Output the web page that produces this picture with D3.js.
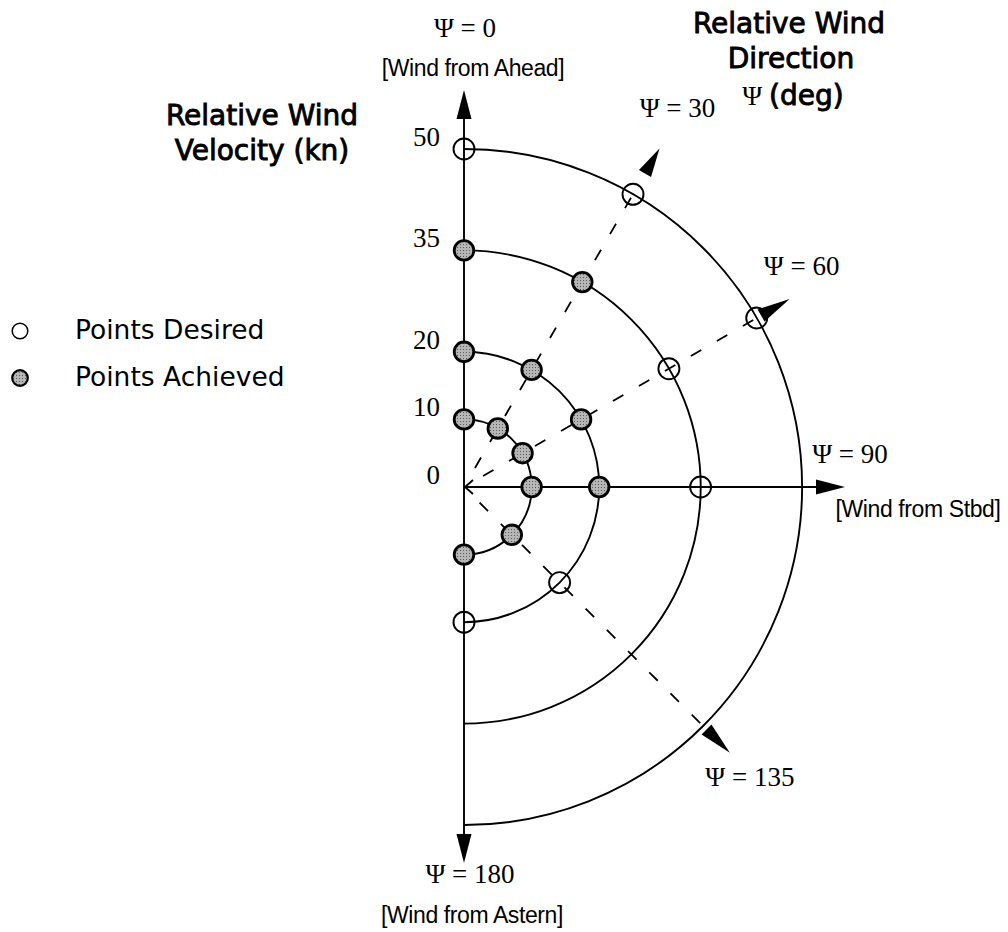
<!DOCTYPE html>
<html>
<head>
<meta charset="utf-8">
<script src="https://cdnjs.cloudflare.com/ajax/libs/d3/7.8.5/d3.min.js"></script>
<style>
  body { margin: 0; background: #fff; }
  svg { display: block; }
</style>
</head>
<body>
<script>
// chart values
var speedTicks = [0, 10, 20, 35, 50];
var arcSpeeds = [10, 20, 35, 50];
var axisDirections = [0, 90, 180];
var dashedDirections = [30, 60, 135];
var labelDirections = [0, 30, 60, 90, 135, 180];
var windFromLabels = ["[Wind from Ahead]", "[Wind from Stbd]", "[Wind from Astern]"];
// [speed kn, direction deg]
var pointsDesired = [[50, 0], [50, 30], [50, 60], [35, 60], [35, 90], [20, 135], [20, 180]];
var pointsAchieved = [[10, 0], [10, 30], [10, 60], [10, 90], [10, 135], [10, 180],
                      [20, 0], [20, 30], [20, 60], [20, 90], [35, 0], [35, 30]];
var legendLabels = ["Points Desired", "Points Achieved"];

var width = 1008,
  height = 932,
  cx = 464,
  cy = 487,
  svg = d3.select("body").append("svg")
    .attr("width", width)
    .attr("height", height);

var r = d3.scaleLinear().domain([0, 50]).range([0, 338]);

function polar(rad, deg) {
  var a = deg * Math.PI / 180;
  return [cx + rad * Math.sin(a), cy - rad * Math.cos(a)];
}

// filled triangle pointing outwards along deg
function arrowHead(deg, r0, r1, hw) {
  var a = deg * Math.PI / 180,
    ux = Math.sin(a), uy = -Math.cos(a),
    b = polar(r0, deg), t = polar(r1, deg);
  return "M" + t[0] + "," + t[1] +
    "L" + (b[0] - uy * hw) + "," + (b[1] + ux * hw) +
    "L" + (b[0] + uy * hw) + "," + (b[1] - ux * hw) + "Z";
}

var defs = svg.append("defs");
var pat = defs.append("pattern").attr("id", "stipple")
  .attr("width", 3).attr("height", 3).attr("patternUnits", "userSpaceOnUse");
pat.append("rect").attr("width", 3).attr("height", 3).attr("fill", "#b6b6b6");
pat.append("rect").attr("x", 1).attr("y", 1).attr("width", 1).attr("height", 1).attr("fill", "#5a5a5a");

var g = svg.append("g");

// speed arcs, right half
g.selectAll("path.arc")
  .data(arcSpeeds)
  .enter().append("path")
  .attr("class", "arc")
  .attr("d", function(s) {
    var p = d3.path();
    p.moveTo(cx, cy - r(s));
    p.arc(cx, cy, r(s), -Math.PI / 2, Math.PI / 2);
    return p.toString();
  })
  .attr("fill", "none")
  .attr("stroke", "#000")
  .attr("stroke-width", 1.9);

// dashed direction lines
g.selectAll("line.dash")
  .data(dashedDirections)
  .enter().append("line")
  .attr("class", "dash")
  .attr("x1", function(d) { return polar(22, d)[0]; })
  .attr("y1", function(d) { return polar(22, d)[1]; })
  .attr("x2", function(d) { return polar(r(50), d)[0]; })
  .attr("y2", function(d) { return polar(r(50), d)[1]; })
  .attr("stroke", "#000")
  .attr("stroke-width", 1.8)
  .attr("stroke-dasharray", "12,18");

g.selectAll("path.dashArrow")
  .data(dashedDirections)
  .enter().append("path")
  .attr("class", "dashArrow")
  .attr("d", function(d) { return d == 30 ? arrowHead(d, 362, 391, 7) : arrowHead(d, 343, 376, 7); })
  .attr("fill", "#000");

// solid axes: up, right, down
var axisLen = {0: 397, 90: 381, 180: 376};
g.selectAll("line.axis")
  .data(axisDirections)
  .enter().append("line")
  .attr("class", "axis")
  .attr("x1", cx).attr("y1", cy)
  .attr("x2", function(d) { return polar(axisLen[d] - 10, d)[0]; })
  .attr("y2", function(d) { return polar(axisLen[d] - 10, d)[1]; })
  .attr("stroke", "#000")
  .attr("stroke-width", 1.9);

g.selectAll("path.axisArrow")
  .data(axisDirections)
  .enter().append("path")
  .attr("class", "axisArrow")
  .attr("d", function(d) { return arrowHead(d, axisLen[d] - 29, axisLen[d], 7.5); })
  .attr("fill", "#000");

// open chevron at the origin on the 90 axis
g.append("path")
  .attr("d", "M" + (cx + 9) + "," + (cy - 7) + "L" + (cx + 1) + "," + cy + "L" + (cx + 9) + "," + (cy + 7))
  .attr("fill", "none")
  .attr("stroke", "#000")
  .attr("stroke-width", 1.8);

// points
g.selectAll("circle.desired")
  .data(pointsDesired)
  .enter().append("circle")
  .attr("class", "desired")
  .attr("cx", function(d) { return polar(r(d[0]), d[1])[0]; })
  .attr("cy", function(d) { return polar(r(d[0]), d[1])[1]; })
  .attr("r", 10.5)
  .attr("fill", "none")
  .attr("stroke", "#000")
  .attr("stroke-width", 1.9);

g.selectAll("circle.achieved")
  .data(pointsAchieved)
  .enter().append("circle")
  .attr("class", "achieved")
  .attr("cx", function(d) { return polar(r(d[0]), d[1])[0]; })
  .attr("cy", function(d) { return polar(r(d[0]), d[1])[1]; })
  .attr("r", 9.8)
  .attr("fill", "url(#stipple)")
  .attr("stroke", "#000")
  .attr("stroke-width", 2.8);

// speed tick labels
g.selectAll("text.tick")
  .data(speedTicks)
  .enter().append("text")
  .attr("class", "tick")
  .attr("x", cx - 24)
  .attr("y", function(d) { return cy - r(d) - 3; })
  .attr("text-anchor", "end")
  .style("font-family", "'Liberation Serif', 'Times New Roman', serif")
  .style("font-size", "27px")
  .text(function(d) { return d; });

// direction labels, offset from the arrow tips
var tipR = {0: 397, 30: 391, 60: 376, 90: 381, 135: 376, 180: 376};
var labelNudge = {0: [1, -53], 30: [18, -31], 60: [12, -24], 90: [5, -24], 135: [20, 33], 180: [6, 20]};
g.selectAll("text.dir")
  .data(labelDirections)
  .enter().append("text")
  .attr("class", "dir")
  .attr("x", function(d) { return polar(tipR[d], d)[0] + labelNudge[d][0]; })
  .attr("y", function(d) { return polar(tipR[d], d)[1] + labelNudge[d][1]; })
  .attr("text-anchor", "middle")
  .style("font-family", "'Liberation Serif', 'Times New Roman', serif")
  .style("font-size", "27px")
  .text(function(d) { return "\u03A8 = " + d; });

var windNudge = [[9, -14, 0], [73, 30, 90], [8, 60, 180]];
g.selectAll("text.wind")
  .data(windFromLabels)
  .enter().append("text")
  .attr("class", "wind")
  .attr("x", function(d, i) { var n = windNudge[i]; return polar(tipR[n[2]], n[2])[0] + n[0]; })
  .attr("y", function(d, i) { var n = windNudge[i]; return polar(tipR[n[2]], n[2])[1] + n[1]; })
  .attr("text-anchor", "middle")
  .style("font-family", "'Liberation Sans', Arial, sans-serif")
  .style("font-size", "23px")
  .style("letter-spacing", "-0.4px")
  .text(function(d) { return d; });

// titles: regular face with a thin stroke to get the semi-bold look
var titleFont = "'DejaVu Sans', sans-serif";
function titleText(sel) {
  return sel.attr("text-anchor", "middle")
    .style("font-family", titleFont)
    .style("font-size", "28px")
    .attr("fill", "#000")
    .attr("stroke", "#000")
    .attr("stroke-width", 0.9);
}
var vTitle = titleText(svg.append("text"));
vTitle.append("tspan").attr("x", 262).attr("y", 125).text("Relative Wind");
vTitle.append("tspan").attr("x", 262).attr("y", 160).text("Velocity (kn)");

var dTitle = titleText(svg.append("text"));
dTitle.append("tspan").attr("x", 789).attr("y", 33).text("Relative Wind");
dTitle.append("tspan").attr("x", 791).attr("y", 68).text("Direction");
var psi = dTitle.append("tspan").attr("x", 793).attr("y", 105);
psi.append("tspan")
  .style("font-family", "'Liberation Serif', serif")
  .style("font-size", "27px")
  .attr("stroke-width", 0)
  .text("\u03A8 ");
psi.append("tspan").text("(deg)");

// legend
var legend = svg.selectAll("g.legend")
  .data(legendLabels)
  .enter().append("g")
  .attr("class", "legend")
  .attr("transform", function(d, i) { return "translate(0," + (i * 47) + ")"; });

legend.append("circle")
  .attr("cx", 20)
  .attr("cy", 331)
  .attr("r", 7.8)
  .attr("fill", function(d, i) { return i ? "url(#stipple)" : "none"; })
  .attr("stroke", "#000")
  .attr("stroke-width", function(d, i) { return i ? 2.2 : 1.5; });

legend.append("text")
  .attr("x", 75)
  .attr("y", 339)
  .style("font-family", titleFont)
  .style("font-size", "26.5px")
  .text(function(d) { return d; });
</script>
</body>
</html>
